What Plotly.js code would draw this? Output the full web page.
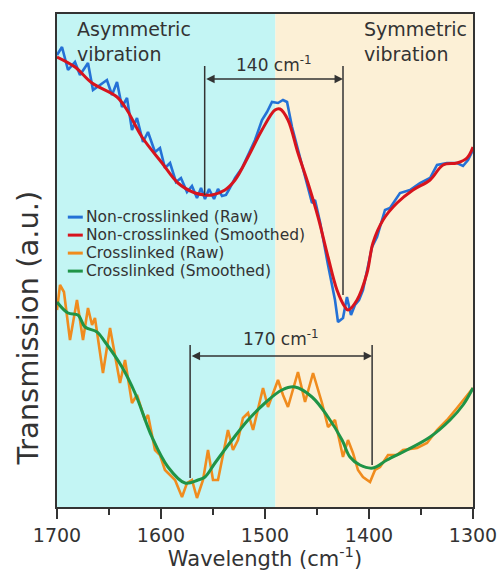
<!DOCTYPE html>
<html>
<head>
<meta charset="utf-8">
<script src="https://cdn.plot.ly/plotly-3.0.1.min.js"></script>
<style>html,body{margin:0;padding:0;background:#fff;}#chart{width:499px;height:571px;}</style>
</head>
<body>
<div id="chart"></div>
<script>
// Non-crosslinked, raw (wavenumber cm^-1, transmission a.u.)
const ncRawX = [1700,1695.2,1689.4,1682.7,1677.9,1670.2,1665.4,1658.7,1652.0,1647.1,1642.3,1637.5,1632.7,1627.9,1623.1,1617.3,1612.5,1605.8,1601.0,1596.2,1591.3,1585.6,1580.8,1575.0,1570.2,1565.4,1561.5,1557.7,1553.8,1549.0,1545.2,1541.3,1537.5,1533.7,1528.8,1522.1,1516.3,1509.6,1502.9,1498.1,1493.3,1487.5,1482.7,1478.8,1474.0,1468.3,1461.5,1454.8,1451.9,1447.1,1439.4,1435.6,1432.7,1429.8,1425.0,1421.2,1417.3,1413.5,1409.6,1405.8,1401.0,1397.1,1392.3,1384.6,1379.8,1370.2,1360.6,1351.0,1341.3,1334.6,1325.0,1315.4,1309.6,1304.8,1300];
const ncRawY = [452,460,437,445,432,444,417,422,427,412,425,400,409,377,389,365,375,355,359,339,344,325,329,315,321,309,319,308,318,308,318,311,312,319,329,339,352,367,387,395,405,404,407,405,380,357,332,304,307,285,242,224,207,185,189,210,192,202,207,217,242,260,270,297,299,314,317,324,329,342,344,344,341,347,357];
// Non-crosslinked, smoothed
const ncSmX = [1700,1682.7,1666.3,1642.3,1632.7,1618.3,1599.0,1583.7,1567.3,1557.7,1551.0,1538.5,1528.8,1516.3,1502.9,1490.4,1485.6,1477.9,1468.3,1458.7,1449.0,1439.4,1430.8,1423.1,1420.2,1411.5,1401.9,1396.2,1386.5,1373.1,1357.7,1341.3,1328.8,1315.4,1305.8,1300];
const ncSmY = [450,440,424,410,397,370,344,324,314,312,312,317,327,350,377,397,398,387,354,324,290,250,217,200,197,207,234,264,287,304,317,327,342,344,349,360];
// Crosslinked, raw
const clRawX = [1700,1697.1,1693.3,1687.5,1680.8,1675.0,1670.2,1666.3,1663.5,1655.8,1649.0,1639.4,1634.6,1627.9,1623.1,1615.4,1612.5,1605.8,1601.0,1596.2,1591.3,1586.5,1579.8,1575.0,1570.2,1565.4,1559.6,1554.8,1550.0,1545.2,1535.6,1530.8,1526.0,1521.2,1516.3,1511.5,1501.9,1497.1,1487.5,1482.7,1477.9,1468.3,1461.5,1453.8,1445.2,1439.4,1432.7,1425.0,1420.2,1415.4,1410.6,1405.8,1399.0,1394.2,1389.4,1381.7,1373.1,1367.3,1353.8,1344.2,1334.6,1325.0,1315.4,1300];
const clRawY = [197,222,215,167,207,167,199,182,189,134,179,124,147,104,112,87,92,57,52,37,32,27,10,24,27,9,27,57,27,27,77,57,67,89,94,77,119,100,127,112,100,135,105,134,104,80,87,50,67,54,37,30,25,37,40,52,52,57,59,64,77,87,99,119];
// Crosslinked, smoothed
const clSmX = [1700,1689.4,1679.8,1673.1,1661.5,1653.8,1637.5,1625.0,1608.7,1593.3,1576.9,1564.4,1557.7,1548.1,1531.7,1516.3,1500.0,1483.7,1471.2,1454.8,1439.4,1425.9,1418.3,1408.7,1396.2,1382.7,1363.5,1341.3,1322.1,1309.6,1300];
const clSmY = [205,194,192,180,175,165,140,114,70,40,24,27,30,44,67,87,104,117,120,110,90,67,50,42,39,47,57,70,87,102,119];

const seriesNames = ['Non-crosslinked (Raw)','Non-crosslinked (Smoothed)','Crosslinked (Raw)','Crosslinked (Smoothed)'];
const xTicks = [1700,1600,1500,1400,1300];
const regionSplit = 1490;
// peak markers (cm^-1) and gap labels
const ncPeaks = [1558, 1425];
const clPeaks = [1572, 1397];
const ncGap = '140 cm<sup>-1</sup>';
const clGap = '170 cm<sup>-1</sup>';

const dark = '#333333';
const font = '"DejaVu Sans", Arial, sans-serif';
const colors = ['#2471d6', '#d7141d', '#f08c1e', '#1f9447'];

const traces = [
  {x: ncRawX, y: ncRawY, name: seriesNames[0], mode:'lines', line:{color:colors[0], width:2.6}},
  {x: ncSmX, y: ncSmY, name: seriesNames[1], mode:'lines', line:{color:colors[1], width:3, shape:'spline', smoothing:1}},
  {x: clRawX, y: clRawY, name: seriesNames[2], mode:'lines', line:{color:colors[2], width:2.6}},
  {x: clSmX, y: clSmY, name: seriesNames[3], mode:'lines', line:{color:colors[3], width:3, shape:'spline', smoothing:1}}
];

const vline = (x, y0, y1) => ({type:'line', xref:'x', yref:'y', x0:x, x1:x, y0:y0, y1:y1, line:{color:dark, width:1.5}});

const shapes = [
  {type:'rect', xref:'x', yref:'paper', x0:1700, x1:regionSplit, y0:0, y1:1, fillcolor:'#c3f5f4', line:{width:0}, layer:'below'},
  {type:'rect', xref:'x', yref:'paper', x0:regionSplit, x1:1300, y0:0, y1:1, fillcolor:'#fcf0d6', line:{width:0}, layer:'below'},
  vline(ncPeaks[0], 441, 312), vline(ncPeaks[1], 441, 212),
  vline(clPeaks[0], 162, 29), vline(clPeaks[1], 162, 42)
];

const dblArrow = (xa, xb, y) => ({x:xb, y:y, ax:xa, ay:y, xref:'x', yref:'y', axref:'x', ayref:'y', text:'', showarrow:true, arrowhead:2, arrowside:'end+start', arrowsize:1.3, arrowwidth:1.3, arrowcolor:dark, standoff:0, startstandoff:0});

const annotations = [
  {x:0.043, y:0.995, xref:'paper', yref:'paper', xanchor:'left', yanchor:'top', align:'left', showarrow:false, text:'Asymmetric<br>vibration', font:{family:font, size:19, color:dark}},
  {x:0.99, y:0.995, xref:'paper', yref:'paper', xanchor:'right', yanchor:'top', align:'left', showarrow:false, text:'Symmetric<br>vibration', font:{family:font, size:19, color:dark}},
  dblArrow(ncPeaks[0], ncPeaks[1], 428),
  dblArrow(clPeaks[0], clPeaks[1], 151),
  {x:(ncPeaks[0]+ncPeaks[1])/2, y:443, xref:'x', yref:'y', showarrow:false, text:ncGap, font:{family:font, size:17, color:dark}},
  {x:(clPeaks[0]+clPeaks[1])/2, y:169, xref:'x', yref:'y', showarrow:false, text:clGap, font:{family:font, size:17, color:dark}},
  {x:-0.07, y:0.364, xref:'paper', yref:'paper', xanchor:'center', yanchor:'middle', textangle:-90, showarrow:false, text:'Transmission (a.u.)', font:{family:font, size:29, color:dark}}
];

// compact legend block (upper-left, inside plot)
const legTop = 0.588, legStep = 0.0365;
seriesNames.forEach((nm, i) => {
  const ly = legTop - i * legStep;
  shapes.push({type:'line', xref:'paper', yref:'paper', x0:0.026, x1:0.062, y0:ly, y1:ly, line:{color:colors[i], width:3}});
  annotations.push({x:0.064, y:ly, xref:'paper', yref:'paper', xanchor:'left', yanchor:'middle', showarrow:false, text:nm, font:{family:font, size:15.5, color:dark}});
});

const layout = {
  width:499, height:571,
  margin:{l:57, r:26, t:14, b:64},
  paper_bgcolor:'#ffffff', plot_bgcolor:'rgba(0,0,0,0)',
  font:{family:font, color:dark},
  showlegend:false,
  xaxis:{range:[1700,1300], tickvals:xTicks, ticktext:xTicks.map(String), ticks:'outside', ticklen:10, tickwidth:2, tickcolor:dark,
    minor:{dtick:50, ticks:'outside', ticklen:6, tickwidth:2, tickcolor:dark},
    showline:true, linecolor:dark, linewidth:2, mirror:true, showgrid:false, zeroline:false,
    tickfont:{family:font, size:19, color:dark},
    title:{text:'Wavelength (cm<sup>-1</sup>)', font:{family:font, size:21, color:dark}, standoff:2}},
  yaxis:{range:[0,493], showticklabels:false, ticks:'', showline:true, linecolor:dark, linewidth:2, mirror:true, showgrid:false, zeroline:false},
  shapes:shapes,
  annotations:annotations
};

Plotly.newPlot('chart', traces, layout, {displayModeBar:false, staticPlot:true});
</script>
</body>
</html>
